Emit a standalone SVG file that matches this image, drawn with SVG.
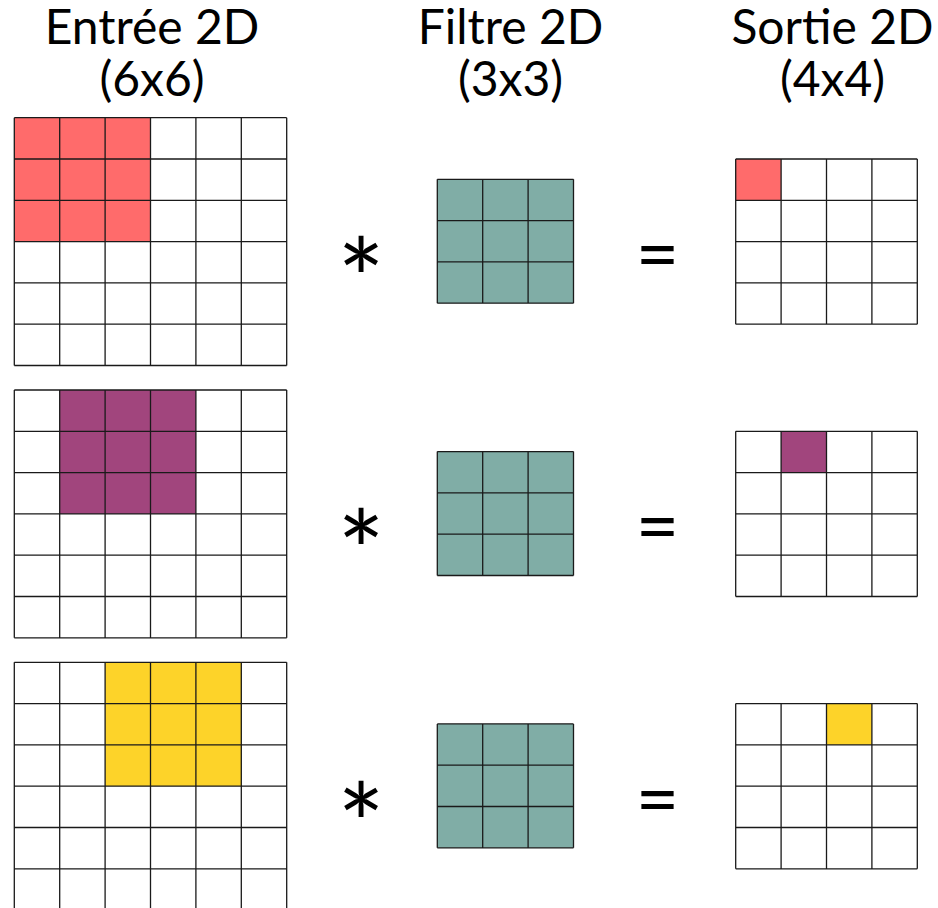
<svg xmlns="http://www.w3.org/2000/svg" xmlns:xlink="http://www.w3.org/1999/xlink" width="938" height="908" viewBox="0 0 938 908">
<style>
.t{font-family:Lato,"Liberation Sans",sans-serif;font-size:48px;fill:#000;text-anchor:middle}
.op{font-family:Lato,"DejaVu Sans",sans-serif;fill:#000;text-anchor:middle}
.ln{fill:none;stroke:#1a1a1a;stroke-width:1.3}
.bg{fill:#fff}
.red{fill:#FF6B6B}
.pur{fill:#A1457D}
.yel{fill:#FDD329}
.teal{fill:#80ADA6}
</style>
<defs>
<path id="g6" class="ln" d="M0,0V247.8M45.4,0V247.8M90.8,0V247.8M136.2,0V247.8M181.6,0V247.8M227,0V247.8M272.4,0V247.8M0,0H272.4M0,41.3H272.4M0,82.6H272.4M0,123.9H272.4M0,165.2H272.4M0,206.5H272.4M0,247.8H272.4"/>
<path id="g3" class="ln" d="M0,0V123.9M45.4,0V123.9M90.8,0V123.9M136.2,0V123.9M0,0H136.2M0,41.3H136.2M0,82.6H136.2M0,123.9H136.2"/>
<path id="g4" class="ln" d="M0,0V165.2M45.4,0V165.2M90.8,0V165.2M136.2,0V165.2M181.6,0V165.2M0,0H181.6M0,41.3H181.6M0,82.6H181.6M0,123.9H181.6M0,165.2H181.6"/>
</defs>
<rect width="938" height="908" fill="#fff"/>
<g id="titles">
<text class="t" x="152" y="43.5">Entrée 2D</text>
<text class="t" x="152" y="95.5">(6x6)</text>
<text class="t" x="510.5" y="43.5">Filtre 2D</text>
<text class="t" x="510.5" y="95.5">(3x3)</text>
<text class="t" x="832.5" y="43.5">Sortie 2D</text>
<text class="t" x="832.5" y="95.5">(4x4)</text>
</g>
<!-- Row 1 -->
<g id="input1" transform="translate(14.3,117.7)">
<rect class="bg" width="272.4" height="247.8"/>
<rect class="red" x="0" y="0" width="136.2" height="123.9"/>
<use xlink:href="#g6"/>
</g>
<g id="filter1" transform="translate(437.3,179.3)">
<rect class="teal" width="136.2" height="123.9"/>
<use xlink:href="#g3"/>
</g>
<g id="output1" transform="translate(735.7,159)">
<rect class="bg" width="181.6" height="165.2"/>
<rect class="red" x="0" y="0" width="45.4" height="41.3"/>
<use xlink:href="#g4"/>
</g>
<!-- Row 2 -->
<g id="input2" transform="translate(14.3,390)">
<rect class="bg" width="272.4" height="247.8"/>
<rect class="pur" x="45.4" y="0" width="136.2" height="123.9"/>
<use xlink:href="#g6"/>
</g>
<g id="filter2" transform="translate(437.3,451.6)">
<rect class="teal" width="136.2" height="123.9"/>
<use xlink:href="#g3"/>
</g>
<g id="output2" transform="translate(735.7,431.3)">
<rect class="bg" width="181.6" height="165.2"/>
<rect class="pur" x="45.4" y="0" width="45.4" height="41.3"/>
<use xlink:href="#g4"/>
</g>
<!-- Row 3 -->
<g id="input3" transform="translate(14.3,662.3)">
<rect class="bg" width="272.4" height="247.8"/>
<rect class="yel" x="90.8" y="0" width="136.2" height="123.9"/>
<use xlink:href="#g6"/>
</g>
<g id="filter3" transform="translate(437.3,723.9)">
<rect class="teal" width="136.2" height="123.9"/>
<use xlink:href="#g3"/>
</g>
<g id="output3" transform="translate(735.7,703.6)">
<rect class="bg" width="181.6" height="165.2"/>
<rect class="yel" x="90.8" y="0" width="45.4" height="41.3"/>
<use xlink:href="#g4"/>
</g>
<g id="operators">
<text class="op" x="361" y="321" font-size="112">*</text>
<text class="op" x="361" y="593.3" font-size="112">*</text>
<text class="op" x="361" y="865.6" font-size="112">*</text>
<text class="op" x="657.5" y="281" font-size="75">=</text>
<text class="op" x="657.5" y="553.3" font-size="75">=</text>
<text class="op" x="657.5" y="825.6" font-size="75">=</text>
</g>
</svg>
